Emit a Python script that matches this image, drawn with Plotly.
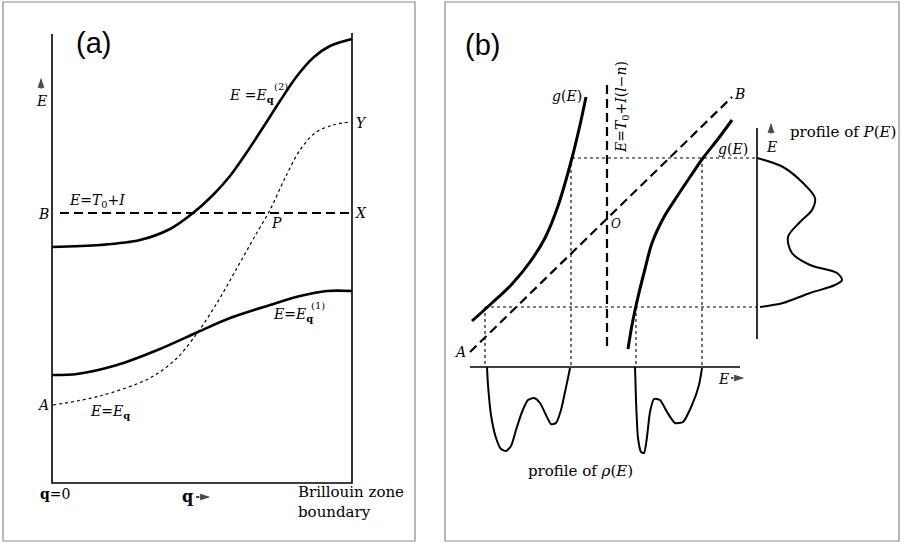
import plotly.graph_objects as go

# diagram coordinates (one unit = one pixel of the 901x545 page)
# ---- panel (a): dispersion curves
a_frame_x = [52, 52, 352, 352]
a_frame_y = [34, 483, 483, 33]
e2_x = [52, 100, 140, 170, 193, 213, 230, 247, 264, 280, 297, 314, 330, 352]
e2_y = [247, 245, 240, 229, 213, 195, 176, 152, 126, 101, 76, 57, 46, 39]
e1_x = [52, 77, 117, 160, 198, 230, 270, 300, 327, 352]
e1_y = [375, 374, 365, 349, 332, 318, 305, 296, 291, 291]
eq_x = [53, 100, 150, 177, 198, 217, 237, 255, 270, 285, 300, 315, 333, 350]
eq_y = [405, 396, 378, 358, 332, 303, 268, 236, 210, 178, 150, 133, 125, 122]
bx_x = [60, 352]
bx_y = [213, 213]

# ---- panel (b): g(E) construction
gl_x = [472, 492, 512, 530, 545, 558, 572, 580, 586]
gl_y = [321, 303, 284, 262, 238, 206, 158, 125, 97]
gr_x = [628, 632, 638, 645, 652, 664, 678, 690, 703, 718, 732]
gr_y = [349, 325, 297, 269, 243, 217, 195, 177, 158, 139, 120]
ab_x = [470, 732]
ab_y = [352, 97]
vd_x = [607, 607]
vd_y = [85, 351]
eaxis_x = [470, 740]
eaxis_y = [367, 367]
paxis_x = [757, 757]
paxis_y = [128, 339]
p_x = [757, 783, 803, 815, 812, 800, 788, 792, 810, 837, 842, 835, 810, 783, 760]
p_y = [158, 167, 183, 198, 210, 222, 237, 253, 265, 273, 280, 285, 293, 303, 307]
rho1_x = [487, 488, 491, 496, 501, 506, 511, 516, 522, 528, 534, 540, 546, 551, 556, 561, 565, 568, 570]
rho1_y = [367, 385, 415, 438, 449, 451, 446, 430, 412, 400, 398, 403, 415, 424, 423, 410, 392, 378, 368]
rho2_x = [635, 636, 638, 641, 644, 647, 650, 654, 660, 667, 675, 683, 692, 699, 702]
rho2_y = [367, 400, 438, 452, 453, 437, 412, 399, 400, 412, 423, 422, 405, 385, 368]
dots_h = [([572, 757], [158, 158]), ([485, 757], [307, 307])]
dots_v = [([485, 485], [307, 367]), ([571, 571], [158, 367]),
          ([636, 636], [307, 367]), ([702, 702], [158, 367])]

fig = go.Figure()


def line(x, y, w=1.5, dash="solid", spline=False, smooth=0.9):
    fig.add_trace(go.Scatter(x=x, y=y, mode="lines", hoverinfo="skip",
                             line=dict(color="black", width=w, dash=dash,
                                       shape="spline" if spline else "linear",
                                       smoothing=smooth)))


def arrow(x, y):
    # short arrow, head at the last point
    fig.add_trace(go.Scatter(x=x, y=y, mode="lines+markers", hoverinfo="skip",
                             line=dict(color="black", width=1.4),
                             marker=dict(symbol="arrow", size=[0, 13], angleref="previous",
                                         color="black")))


line(a_frame_x, a_frame_y, 1.6)
line(e2_x, e2_y, 2.6, spline=True)
line(e1_x, e1_y, 2.6, spline=True)
line(eq_x, eq_y, 1.2, "dot", spline=True)
line(bx_x, bx_y, 2.2, "9px,5px")

line(gl_x, gl_y, 3, spline=True)
line(gr_x, gr_y, 3, spline=True)
line(ab_x, ab_y, 2.2, "9px,5px")
line(vd_x, vd_y, 2.2, "9px,5px")
for xs, ys in dots_h + dots_v:
    line(xs, ys, 1.1, "dot")
line(eaxis_x, eaxis_y, 1.6)
line(paxis_x, paxis_y, 1.6)
line(p_x, p_y, 2, spline=True)
line(rho1_x, rho1_y, 2, spline=True, smooth=0.6)
line(rho2_x, rho2_y, 2, spline=True, smooth=0.6)

arrow([41, 41], [89, 76])        # E up, panel (a)
arrow([196, 212], [497, 497])    # q ->
arrow([731, 746], [378, 378])    # E ->
arrow([771, 771], [134, 121])    # E up, panel (b)

SERIF = "DejaVu Serif"
ann = []


def txt(x, y, t, size=14, xa="center", ya="middle", font=SERIF, angle=0):
    ann.append(dict(x=x, y=y, text=t, showarrow=False, xanchor=xa, yanchor=ya,
                    textangle=angle, align="left" if xa == "left" else "center",
                    font=dict(family=font, size=size, color="black")))


# panel (a) labels
txt(93, 43, "(a)", 29, font="Liberation Sans")
txt(41, 101, "<i>E</i>", 14)
txt(43, 214, "<i>B</i>", 14)
txt(43, 405, "<i>A</i>", 14)
txt(361, 213, "<i>X</i>", 14)
txt(361, 123, "<i>Y</i>", 14)
txt(276, 223, "<i>P</i>", 14)
txt(97, 201, "<i>E</i>=<i>T</i><sub>0</sub>+<i>I</i>", 14)
txt(227, 96, "<i>E</i> =<i>E</i><sub><b>q</b></sub>", 14, xa="left")
txt(272, 86, "(2)", 10, xa="left")
txt(271, 315, "<i>E</i>=<i>E</i><sub><b>q</b></sub>", 14, xa="left")
txt(309, 305, "(1)", 10, xa="left")
txt(88, 412, "<i>E</i>=<i>E</i><sub><b>q</b></sub>", 14, xa="left")
txt(38, 494, "<b>q</b>=0", 14, xa="left")
txt(187, 496, "<b>q</b>", 16)
txt(296, 502, "Brillouin zone<br>boundary", 15, xa="left")

# panel (b) labels
txt(482, 45, "(b)", 29, font="Liberation Sans")
txt(584, 96, "<i>g</i>(<i>E</i>)", 14, xa="right")
txt(750, 149, "<i>g</i>(<i>E</i>)", 14, xa="right")
txt(622, 107, "<i>E</i>=<i>T</i><sub>0</sub>+<i>I</i>(<i>l</i>\u2212<i>n</i>)", 14, angle=-90)
txt(460, 352, "<i>A</i>", 14)
txt(739, 94, "<i>B</i>", 14)
txt(616, 224, "<i>O</i>", 12)
txt(723, 379, "<i>E</i>", 14)
txt(771, 147, "<i>E</i>", 14)
txt(788, 132, "profile of <i>P</i>(<i>E</i>)", 15, xa="left")
txt(580, 471, "profile of <i>\u03c1</i>(<i>E</i>)", 15)

# grey panel frames
shapes = [
    dict(type="rect", xref="x", yref="y", x0=3, x1=415, y0=2, y1=541,
         line=dict(color="#8a8a8a", width=1.2)),
    dict(type="rect", xref="x", yref="y", x0=445, x1=899, y0=2, y1=541,
         line=dict(color="#8a8a8a", width=1.2)),
]

fig.update_layout(
    width=901, height=545, margin=dict(l=0, r=0, t=0, b=0),
    paper_bgcolor="white", plot_bgcolor="white", showlegend=False,
    xaxis=dict(range=[0, 901], visible=False, fixedrange=True),
    yaxis=dict(range=[545, 0], visible=False, fixedrange=True),
    annotations=ann, shapes=shapes,
)
fig.write_html("out.html", config={"displayModeBar": False},
               post_script="document.body.style.margin='0';document.body.style.overflow='hidden';")
